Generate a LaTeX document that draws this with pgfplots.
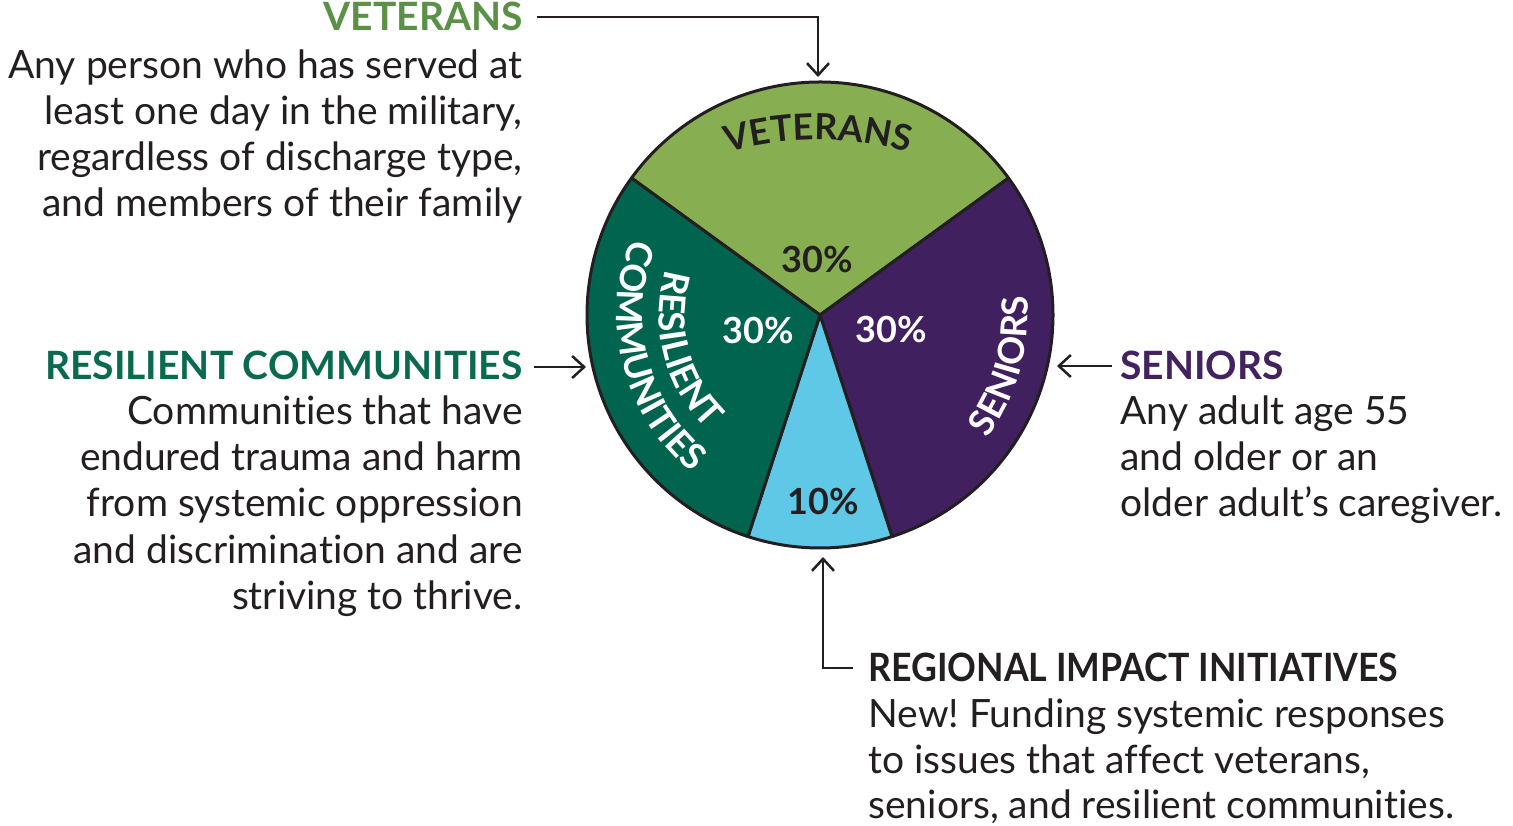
\documentclass[border=0pt]{standalone}
\usepackage{pgfplots}
\usepackage{pgfplotstable}
\pgfplotsset{compat=1.18}
\usepackage{fontspec}
\setmainfont{Lato}[Ligatures={NoCommon}]
\newfontfamily\capsfont{Lato}[LetterSpace=4, Ligatures={NoCommon}]
\newfontfamily\condfont{Lato}[FakeStretch=0.915, Ligatures={NoCommon}]
\usetikzlibrary{arrows.meta,decorations.text}
\definecolor{vetc}{HTML}{87AF51}
\definecolor{senc}{HTML}{41205F}
\definecolor{regc}{HTML}{5EC8E6}
\definecolor{resc}{HTML}{00644E}
\definecolor{darkc}{HTML}{231F20}
\definecolor{vethead}{HTML}{5B9147}
\definecolor{reshead}{HTML}{0A6A4F}
\definecolor{senhead}{HTML}{43225F}
\newcommand\bodyfont{\fontsize{19.5}{23}\selectfont}
\newcommand\headfont{\bfseries\fontsize{19.5}{23}\selectfont}
\newcommand\pctfont{\bfseries\fontsize{18}{18}\selectfont}
\newcommand\curvefont{\capsfont\bfseries\fontsize{18}{18}\selectfont}
\frenchspacing

\pgfplotstableread{
name pct
Veterans 30
Seniors 30
Regional 10
Resilient 30
}\piedata

\begin{document}
\begin{tikzpicture}
\pgfplotstablegetelem{0}{pct}\of\piedata \let\pVet\pgfplotsretval
\pgfplotstablegetelem{1}{pct}\of\piedata \let\pSen\pgfplotsretval
\pgfplotstablegetelem{2}{pct}\of\piedata \let\pReg\pgfplotsretval
\pgfplotstablegetelem{3}{pct}\of\piedata \let\pRes\pgfplotsretval
\pgfmathsetmacro\aA{144}
\pgfmathsetmacro\aB{\aA-3.6*\pVet}
\pgfmathsetmacro\aC{\aB-3.6*\pSen}
\pgfmathsetmacro\aD{\aC-3.6*\pReg}
\pgfmathsetmacro\aE{\aD-3.6*\pRes}
\begin{axis}[name=ax, scale only axis, width=756.5pt, height=412.5pt,
  xmin=0, xmax=1513, ymin=0, ymax=825, hide axis, clip=false]
% pie wedges
\def\R{116.5pt}
\filldraw[fill=vetc, draw=darkc, line width=1.5pt, line join=round] (axis cs:820,510) -- ++(\aA:\R) arc[start angle=\aA, end angle=\aB, radius=\R] -- cycle;
\filldraw[fill=senc, draw=darkc, line width=1.5pt, line join=round] (axis cs:820,510) -- ++(\aB:\R) arc[start angle=\aB, end angle=\aC, radius=\R] -- cycle;
\filldraw[fill=regc, draw=darkc, line width=1.5pt, line join=round] (axis cs:820,510) -- ++(\aC:\R) arc[start angle=\aC, end angle=\aD, radius=\R] -- cycle;
\filldraw[fill=resc, draw=darkc, line width=1.5pt, line join=round] (axis cs:820,510) -- ++(\aD:\R) arc[start angle=\aD, end angle=\aE, radius=\R] -- cycle;
% percentages
\node[font=\pctfont, text=darkc] at (axis cs:817,565) {\pVet\%};
\node[font=\pctfont, text=white] at (axis cs:891,495) {\pSen\%};
\node[font=\pctfont, text=darkc] at (axis cs:823,323) {\pReg\%};
\node[font=\pctfont, text=white] at (axis cs:758,494) {\pRes\%};
% curved labels
\path[decorate, decoration={text along path, text align=center, text color=darkc,
  text={|\curvefont|VETERANS}}]
  (axis cs:818,348) ++(115:168.5pt) arc[start angle=115, end angle=65, radius=168.5pt];
\path[decorate, decoration={text along path, text align=center, text color=white,
  text={|\curvefont|SENIORS}}]
  (axis cs:820,510) ++(-48:104pt) arc[start angle=-48, end angle=17, radius=104pt];
\path[decorate, decoration={text along path, text align=center, text color=white,
  text={|\curvefont|COMMUNITIES}}]
  (axis cs:820,510) ++(140:101.5pt) arc[start angle=140, end angle=249, radius=101.5pt];
\path[decorate, decoration={text along path, text align=center, text color=white,
  text={|\curvefont|RESILIENT}}]
  (axis cs:820,510) ++(145:80.5pt) arc[start angle=145, end angle=244, radius=80.5pt];
% arrows
\draw[darkc, line width=1.25pt, -{Straight Barb[length=6pt,width=11pt]}] (axis cs:537,808) -- (axis cs:818,808) -- (axis cs:818,748);
\draw[darkc, line width=1.25pt, -{Straight Barb[length=6pt,width=11pt]}] (axis cs:534,458) -- (axis cs:586,458);
\draw[darkc, line width=1.25pt, -{Straight Barb[length=6pt,width=11pt]}] (axis cs:1112,459) -- (axis cs:1057,459);
\draw[darkc, line width=1.25pt, -{Straight Barb[length=6pt,width=11pt]}] (axis cs:853,157) -- (axis cs:823,157) -- (axis cs:823,268);
% left top block
\node[anchor=base east, inner sep=0pt, font=\headfont, text=vethead] at (axis cs:523,794) {VETERANS};
\node[anchor=base east, inner sep=0pt, font=\bodyfont, text=darkc] at (axis cs:523,746) {Any person who has served at};
\node[anchor=base east, inner sep=0pt, font=\bodyfont, text=darkc] at (axis cs:523,700) {least one day in the military,};
\node[anchor=base east, inner sep=0pt, font=\bodyfont, text=darkc] at (axis cs:523,654) {regardless of discharge type,};
\node[anchor=base east, inner sep=0pt, font=\bodyfont, text=darkc] at (axis cs:523,608) {and members of their family};
% left lower block
\node[anchor=base east, inner sep=0pt, font=\headfont, text=reshead] at (axis cs:523,445) {RESILIENT COMMUNITIES};
\node[anchor=base east, inner sep=0pt, font=\bodyfont, text=darkc] at (axis cs:523,400) {Communities that have};
\node[anchor=base east, inner sep=0pt, font=\bodyfont, text=darkc] at (axis cs:523,354) {endured trauma and harm};
\node[anchor=base east, inner sep=0pt, font=\bodyfont, text=darkc] at (axis cs:523,308) {from systemic oppression};
\node[anchor=base east, inner sep=0pt, font=\bodyfont, text=darkc] at (axis cs:523,262) {and discrimination and are};
\node[anchor=base east, inner sep=0pt, font=\bodyfont, text=darkc] at (axis cs:523,216) {striving to thrive.};
% seniors block
\node[anchor=base west, inner sep=0pt, font=\headfont, text=senhead] at (axis cs:1120,445) {SENIORS};
\node[anchor=base west, inner sep=0pt, font=\bodyfont, text=darkc] at (axis cs:1120,400) {Any adult age 55};
\node[anchor=base west, inner sep=0pt, font=\bodyfont, text=darkc] at (axis cs:1120,354) {and older or an};
\node[anchor=base west, inner sep=0pt, font=\bodyfont, text=darkc] at (axis cs:1120,308) {older adult’s caregiver.};
% regional block
\node[anchor=base west, inner sep=0pt, font=\condfont\bfseries\fontsize{19.5}{23}\selectfont, text=darkc] at (axis cs:868,144) {REGIONAL IMPACT INITIATIVES};
\node[anchor=base west, inner sep=0pt, font=\bodyfont, text=darkc] at (axis cs:868,98) {New! Funding systemic responses};
\node[anchor=base west, inner sep=0pt, font=\bodyfont, text=darkc] at (axis cs:868,52) {to issues that affect veterans,};
\node[anchor=base west, inner sep=0pt, font=\bodyfont, text=darkc] at (axis cs:868,7) {seniors, and resilient communities.};
\end{axis}
\pgfresetboundingbox
\path[use as bounding box] (ax.south west) rectangle (ax.north east);
\end{tikzpicture}
\end{document}
